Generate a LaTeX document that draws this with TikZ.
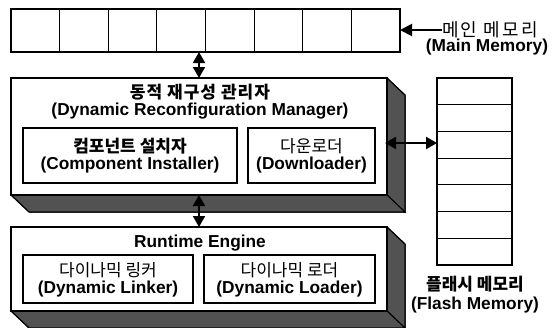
\documentclass[tikz,border=0pt]{standalone}
\usepackage{fontspec}
\setmainfont{Liberation Sans}
\newfontfamily\kr{Noto Sans CJK KR}
\usetikzlibrary{arrows.meta,calc}

\tikzset{
  face/.style={draw=black, line width=1.4pt, fill=white, outer sep=0pt, inner sep=0pt, anchor=north west},
  inbox/.style={draw=black, line width=1.2pt, fill=white, outer sep=0pt, inner sep=0pt, anchor=north west},
  cellbox/.style={draw=black, line width=1.2pt, fill=white, outer sep=0pt, inner sep=0pt, anchor=north west},
  sideface/.style={draw=black, line width=1pt, fill=black!68},
  entext/.style={font=\bfseries\fontsize{17.3}{20}\selectfont, inner sep=0pt},
  kotext/.style={font=\kr\fontsize{17}{20}\selectfont, inner sep=0pt},
  kobold/.style={font=\kr\bfseries\fontsize{17}{20}\selectfont, inner sep=0pt},
  onearrow/.style={line width=2pt, -{Triangle[length=12pt,width=12pt]}},
  twoarrow/.style={line width=2pt, {Triangle[length=11pt,width=12pt]}-{Triangle[length=11pt,width=12pt]}},
}

\begin{document}
\begin{tikzpicture}[x=1pt,y=-1pt]
\useasboundingbox (0,0) rectangle (559,327);

% main memory: one strip of eight cells
\node[cellbox, minimum width=389, minimum height=43] (mm) at (11,9) {};
\foreach \i in {1,...,7}
  \draw[line width=1.2pt] ($(mm.north west)+(48.625*\i,0)$) -- ++(0,43);
\node[kotext, anchor=west, font=\kr\fontsize{18}{20}\selectfont] (mmk) at (442,30) {\addfontfeature{LetterSpace=12}메인 메모리};
\node[entext] (mme) at (487,47) {(Main Memory)};
\draw[onearrow] (mmk.west) -- (mmk.west -| mm.east);

% flash memory: a column of seven cells
\node[cellbox, minimum width=75, minimum height=187] (fl) at (437,78) {};
\foreach \i in {1,...,6}
  \draw[line width=1.2pt] ($(fl.north west)+(0,26.714*\i)$) -- ++(75,0);
\node[kobold] (flk) at (475,284) {플래시 메모리};
\node[entext] (fle) at (475,305) {(Flash Memory)};

% dynamic reconfiguration manager (raised block)
\node[face, minimum width=376, minimum height=117] (drm) at (11,78) {};
\fill[sideface] (drm.north east) -- ++(18,17) -- ++(0,117) -- ++(-18,-17) -- cycle;
\fill[sideface] (drm.south west) -- (drm.south east) -- ++(18,17) -- ++(-376,0) -- cycle;
\draw[line width=1pt] (drm.north east) -- ++(18,17) -- ++(0,117) -- ++(-376,0) -- (drm.south west);
\draw[line width=1.4pt] (drm.north west) rectangle (drm.south east);
\node[kobold] (drmk) at (200,92) {\addfontfeature{LetterSpace=6}동적 재구성 관리자};
\node[entext] (drme) at (200,111) {(Dynamic Reconfiguration Manager)};

\node[inbox, minimum width=214, minimum height=55] (ci) at (23,128) {};
\node[kobold] (cik) at (ci.center |- 0,146) {컴포넌트 설치자};
\node[entext] (cie) at (ci.center |- 0,165) {(Component Installer)};

\node[inbox, minimum width=127, minimum height=55] (dl) at (248,128) {};
\node[kotext] (dlk) at (dl.center |- 0,146) {다운로더};
\node[entext] (dle) at (dl.center |- 0,165) {(Downloader)};

% runtime engine (raised block)
\node[face, minimum width=376, minimum height=84] (re) at (11,227) {};
\fill[sideface] (re.north east) -- ++(18,17) -- ++(0,84) -- ++(-18,-17) -- cycle;
\fill[sideface] (re.south west) -- (re.south east) -- ++(18,17) -- ++(-376,0) -- cycle;
\draw[line width=1pt] (re.north east) -- ++(18,17) -- ++(0,84) -- ++(-376,0) -- (re.south west);
\draw[line width=1.4pt] (re.north west) rectangle (re.south east);
\node[entext] (ret) at (200,243) {Runtime Engine};

\node[inbox, minimum width=170, minimum height=48] (lk) at (23,255) {};
\node[kotext] (lkk) at (lk.center |- 0,270) {다이나믹 링커};
\node[entext] (lke) at (lk.center |- 0,289) {(Dynamic Linker)};

\node[inbox, minimum width=171, minimum height=48] (ld) at (204,255) {};
\node[kotext] (ldk) at (ld.center |- 0,270) {다이나믹 로더};
\node[entext] (lde) at (ld.center |- 0,289) {(Dynamic Loader)};

% connectors
\draw[twoarrow] (drm.north |- mm.south) -- (drm.north);
\draw[twoarrow] (drm.south) -- (re.north);
\coordinate (dlside) at (385,143);
\draw[twoarrow] (dlside) -- (dlside -| fl.west);
\end{tikzpicture}
\end{document}
